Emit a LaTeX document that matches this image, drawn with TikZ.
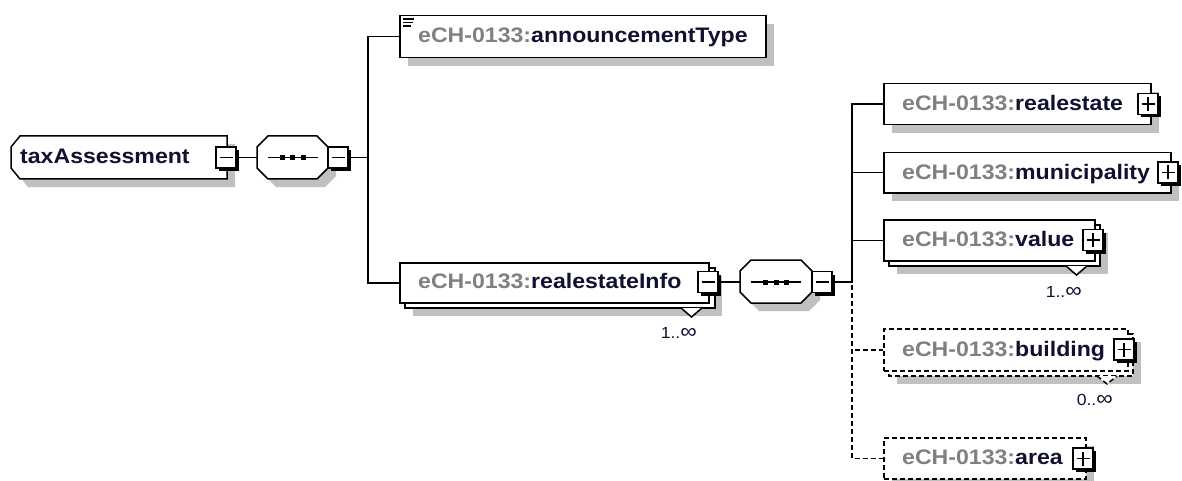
\documentclass[tikz,border=0pt]{standalone}
\usepackage{fontspec}
\setmainfont{Liberation Sans}[FakeStretch=1.10]
\usetikzlibrary{shadows}
\definecolor{pfx}{RGB}{128,128,128}
\definecolor{nm}{RGB}{16,16,48}
\definecolor{shd}{RGB}{192,192,192}
\newcommand{\infsym}{{\fontsize{21}{21}\selectfont ∞}}
\tikzset{
  ln/.style={line width=1.5pt},
  conn/.style={ln, draw=black},
  dconn/.style={conn, dash pattern=on 5pt off 3pt, dash phase=5pt},
  gshadow/.style={fill=shd, draw=none},
  dropg/.style={drop shadow={shadow xshift=8pt, shadow yshift=-8pt, fill=shd, opacity=1}},
  elbox/.style={rectangle, draw, fill=white, ln, inner sep=0pt, anchor=north west},
  optbox/.style={elbox, dash pattern=on 5pt off 3pt},
  lbl/.style={inner sep=0pt, anchor=base west, font=\bfseries\fontsize{21}{24}\selectfont},
  mult/.style={inner sep=0pt, anchor=base east, text=nm, font=\fontsize{16}{18}\selectfont},
  pmbox/.style={rectangle, draw, fill=white, line width=1.3pt, minimum width=20pt, minimum height=21pt, inner sep=0pt,
    drop shadow={shadow xshift=3pt, shadow yshift=-3pt, fill=black, opacity=1}},
  minusbox/.style={pmbox, path picture={\draw[line width=1.3pt] ([xshift=-6.5pt]path picture bounding box.center) -- ([xshift=6.5pt]path picture bounding box.center);}},
  plusbox/.style={pmbox, path picture={\draw[line width=1.3pt] ([xshift=-6.5pt]path picture bounding box.center) -- ([xshift=6.5pt]path picture bounding box.center);
     \draw[line width=1.3pt] ([yshift=-7pt]path picture bounding box.center) -- ([yshift=7pt]path picture bounding box.center);}},
  seqshape/.style={draw, fill=white, ln},
}
\begin{document}
\begin{tikzpicture}[x=1pt,y=-1pt]
\useasboundingbox (0,0) rectangle (1182,481);
\fill[white] (0,0) rectangle (1182,481);

% coordinates for buses and sequence ends
\coordinate (bus1) at (368,0);
\coordinate (bus2) at (852,0);
\coordinate (s1w) at (257,157.5);
\coordinate (s2w) at (740,282);

% ---------- taxAssessment ----------
\fill[gshadow] (19,155) -- (28,144) -- (235,144) -- (235,187) -- (28,187) -- (19,176) -- cycle;
\draw[seqshape] (11,147) -- (20,136) -- (227,136) -- (227,179) -- (20,179) -- (11,168) -- cycle;
\node[lbl] (taxt) at (20,164) {\textcolor{nm}{taxAssessment}};
\node[minusbox] (taxm) at (226,157.5) {};

% ---------- sequence 1 ----------
\fill[gshadow] (265,155) -- (276,144) -- (325,144) -- (336,155) -- (336,176) -- (325,187) -- (276,187) -- (265,176) -- cycle;
\draw[seqshape] (257,147) -- (268,136) -- (317,136) -- (328,147) -- (328,168) -- (317,179) -- (268,179) -- (257,168) -- cycle;
\draw[line width=1.4pt] (268,157.5) -- (318,157.5);
\foreach \d in {282,292.5,303} \fill (\d-2.5,155) rectangle (\d+2.5,160);
\node[minusbox] (s1m) at (338,157.5) {};

% ---------- announcementType ----------
\node[elbox, dropg, minimum width=366pt, minimum height=42pt] (ann) at (399,15) {};
\draw[line width=1.3pt] (403,19) -- (414,19) (403,22.5) -- (413,22.5) (403,26) -- (411,26);
\node[lbl] (annt) at (418,43) {\textcolor{pfx}{eCH-0133:}\textcolor{nm}{announcementType}};

% ---------- realestateInfo ----------
\fill[gshadow] (413,276) rectangle (722,316);
\draw[ln, fill=white] (405,268) rectangle (715,308);
\node[elbox, minimum width=309pt, minimum height=40pt] (rinfo) at (399,262) {};
\fill[white] (681,308) -- (691.5,317) -- (702,308) -- cycle;
\draw[ln] (681,308) -- (691.5,317) -- (702,308);
\node[lbl] (rinfot) at (418,288) {\textcolor{pfx}{eCH-0133:}\textcolor{nm}{realestateInfo}};
\node[minusbox] (rinfom) at (708,282) {};
\node[mult] (rinfoc) at (697,338) {1..\infsym};

% ---------- sequence 2 ----------
\fill[gshadow] (748,279) -- (759,268) -- (809,268) -- (820,279) -- (820,300) -- (809,311) -- (759,311) -- (748,300) -- cycle;
\draw[seqshape] (740,271) -- (751,260) -- (801,260) -- (812,271) -- (812,292) -- (801,303) -- (751,303) -- (740,292) -- cycle;
\draw[line width=1.4pt] (751,282) -- (801,282);
\foreach \d in {765.5,776,786.5} \fill (\d-2.5,279.5) rectangle (\d+2.5,284.5);
\node[minusbox] (s2m) at (822,282) {};

% ---------- connectors ----------
\draw[conn] (taxm.east) -- (s1w);
\draw[conn] (s1m.east) -- (s1m.east -| bus1);
\draw[conn] (ann.west) -| (rinfo.west -| bus1) -- (rinfo.west);
\draw[conn] (rinfom.east) -- (s2w);

% ---------- right column ----------
\node[elbox, dropg, minimum width=267pt, minimum height=41pt] (re) at (883,83) {};
\node[lbl] (ret) at (902,110.5) {\textcolor{pfx}{eCH-0133:}\textcolor{nm}{realestate}};
\node[plusbox] (rep) at (1148,104) {};

\node[elbox, dropg, minimum width=287pt, minimum height=40pt] (mun) at (883,152) {};
\node[lbl] (munt) at (902,179) {\textcolor{pfx}{eCH-0133:}\textcolor{nm}{municipality}};
\node[plusbox] (munp) at (1168,172.5) {};

\fill[gshadow] (897,233) rectangle (1108,274);
\draw[ln, fill=white] (889,225) rectangle (1100,266);
\node[elbox, minimum width=211pt, minimum height=41pt] (val) at (883,219) {};
\fill[white] (1066,266) -- (1076.5,275) -- (1087,266) -- cycle;
\draw[ln] (1066,266) -- (1076.5,275) -- (1087,266);
\node[lbl] (valt) at (902,246.5) {\textcolor{pfx}{eCH-0133:}\textcolor{nm}{value}};
\node[plusbox] (valp) at (1093,240) {};
\node[mult] (valc) at (1082,297) {1..\infsym};

\fill[gshadow] (897,342) rectangle (1141,384);
\draw[ln, fill=white, dash pattern=on 5pt off 3pt] (889,334) rectangle (1133,376);
\node[optbox, minimum width=244pt, minimum height=42pt] (bld) at (883,328) {};
\fill[white] (1097,376) -- (1107,384) -- (1117,376) -- cycle;
\draw[ln, dash pattern=on 5pt off 3pt] (1097,376) -- (1107,384) -- (1117,376);
\node[lbl] (bldt) at (902,356) {\textcolor{pfx}{eCH-0133:}\textcolor{nm}{building}};
\node[plusbox] (bldp) at (1124,349.5) {};
\node[mult] (bldc) at (1113,405) {0..\infsym};

\node[optbox, dropg, minimum width=202pt, minimum height=41pt] (area) at (883,437) {};
\node[lbl] (areat) at (902,464.5) {\textcolor{pfx}{eCH-0133:}\textcolor{nm}{area}};
\node[plusbox] (areap) at (1083,458.5) {};

% ---------- right connectors ----------
\draw[conn] (re.west) -| (s2m.east -| bus2) -- (s2m.east);
\draw[conn] (mun.west) -- (mun.west -| bus2);
\draw[conn] (val.west) -- (val.west -| bus2);
\draw[dconn] (s2m.east -| bus2) |- (area.west);
\draw[dconn] (bld.west -| bus2) -- (bld.west);
\end{tikzpicture}
\end{document}
